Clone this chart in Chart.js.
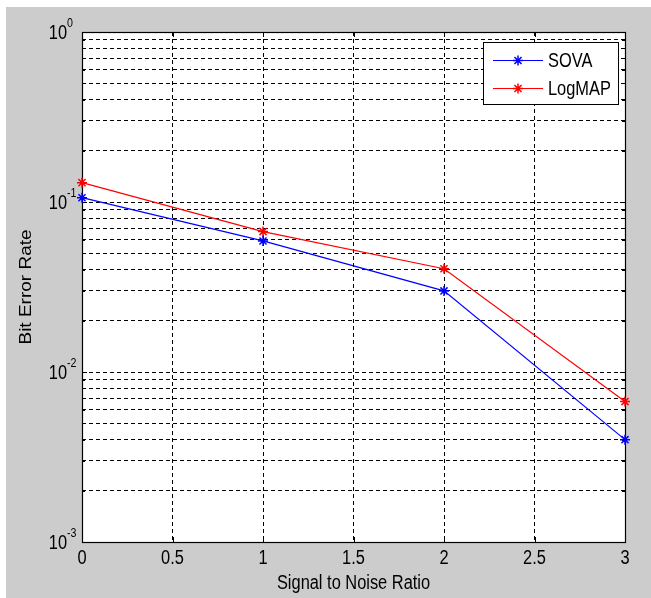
<!DOCTYPE html>
<html>
<head>
<meta charset="utf-8">
<script src="https://cdn.jsdelivr.net/npm/chart.js@4/dist/chart.umd.min.js"></script>
<style>
  html, body { margin: 0; padding: 0; background: #fff; }
  canvas { display: block; }
</style>
</head>
<body>
<canvas id="berChart" width="651" height="598"></canvas>
<script>
// values
const snr = [0, 1, 2, 3];
const sovaBer = [0.106, 0.059, 0.030, 0.0040];
const logmapBer = [0.130, 0.067, 0.0405, 0.0067];
const xTicks = [0, 0.5, 1, 1.5, 2, 2.5, 3];
const yExponents = [-3, -2, -1, 0];
const yMinorSteps = [2, 3, 4, 5, 6, 7, 8, 9];

const FONT = "'Liberation Sans', Arial, sans-serif";
const SQUEEZE = 0.82; // text in the figure is horizontally condensed

function drawText(ctx, str, x, y, size, align, baseline) {
    ctx.save();
    ctx.translate(x, y);
    ctx.scale(SQUEEZE, 1);
    ctx.font = size + 'px ' + FONT;
    ctx.fillStyle = '#000';
    ctx.textAlign = align;
    ctx.textBaseline = baseline;
    ctx.fillText(str, 0, 0);
    ctx.restore();
}

function drawStar(ctx, x, y, r, color) {
    const d = r * Math.SQRT1_2;
    ctx.save();
    ctx.strokeStyle = color;
    ctx.lineWidth = 1.5;
    ctx.beginPath();
    ctx.moveTo(x - r, y); ctx.lineTo(x + r, y);
    ctx.moveTo(x, y - r); ctx.lineTo(x, y + r);
    ctx.moveTo(x - d, y - d); ctx.lineTo(x + d, y + d);
    ctx.moveTo(x - d, y + d); ctx.lineTo(x + d, y - d);
    ctx.stroke();
    ctx.restore();
}

// MATLAB-like frame: gray figure, white axes, box, inner ticks, labels, legend
const matlabFrame = {
    id: 'matlabFrame',
    beforeDraw(chart) {
        const { ctx, chartArea: a } = chart;
        ctx.save();
        ctx.fillStyle = '#fff';
        ctx.fillRect(0, 0, chart.width, chart.height);
        ctx.fillStyle = '#cccccc';
        ctx.fillRect(6, 7, chart.width - 6, chart.height - 7);
        ctx.fillStyle = '#fff';
        ctx.fillRect(a.left, a.top, a.right - a.left, a.bottom - a.top);
        ctx.restore();
    },
    beforeDatasetsDraw(chart) {
        const { ctx, chartArea: a, scales } = chart;
        const xs = scales.x, ys = scales.y;
        ctx.save();
        ctx.strokeStyle = '#000';
        ctx.lineWidth = 1;
        ctx.beginPath();
        xTicks.forEach(v => {
            const px = Math.round(xs.getPixelForValue(v)) + 0.5;
            ctx.moveTo(px, a.bottom); ctx.lineTo(px, a.bottom - 5);
            ctx.moveTo(px, a.top); ctx.lineTo(px, a.top + 5);
        });
        yExponents.forEach(e => {
            const py = Math.round(ys.getPixelForValue(Math.pow(10, e))) + 0.5;
            ctx.moveTo(a.left, py); ctx.lineTo(a.left + 5, py);
            ctx.moveTo(a.right, py); ctx.lineTo(a.right - 5, py);
            if (e < 0) {
                yMinorSteps.forEach(m => {
                    const pm = Math.round(ys.getPixelForValue(m * Math.pow(10, e))) + 0.5;
                    ctx.moveTo(a.left, pm); ctx.lineTo(a.left + 3, pm);
                    ctx.moveTo(a.right, pm); ctx.lineTo(a.right - 3, pm);
                });
            }
        });
        ctx.stroke();
        ctx.lineWidth = 1.2;
        ctx.strokeRect(Math.round(a.left) + 0.5, Math.round(a.top) + 0.5,
            Math.round(a.right - a.left), Math.round(a.bottom - a.top));
        ctx.restore();

        // tick labels
        xTicks.forEach(v => {
            drawText(ctx, String(v), xs.getPixelForValue(v), a.bottom + 16, 20, 'center', 'middle');
        });
        yExponents.forEach(e => {
            const py = ys.getPixelForValue(Math.pow(10, e));
            drawText(ctx, '10', a.left - 15, py + 1, 20, 'right', 'middle');
            drawText(ctx, String(e), a.left - 15, py - 5, 13, 'left', 'alphabetic');
        });

        // axis titles
        drawText(ctx, 'Signal to Noise Ratio', (a.left + a.right) / 2, a.bottom + 41, 20, 'center', 'middle');
        ctx.save();
        ctx.translate(27, (a.top + a.bottom) / 2);
        ctx.rotate(-Math.PI / 2);
        ctx.font = '19px ' + FONT;
        ctx.fillStyle = '#000';
        ctx.textAlign = 'center';
        ctx.textBaseline = 'middle';
        ctx.scale(1, SQUEEZE);
        ctx.fillText('Bit Error Rate', 0, 0);
        ctx.restore();
    },
    afterDatasetsDraw(chart) {
        const { ctx } = chart;
        const box = { x: 483, y: 42, w: 135, h: 62 };
        ctx.save();
        ctx.fillStyle = '#fff';
        ctx.fillRect(box.x, box.y, box.w, box.h);
        ctx.strokeStyle = '#000';
        ctx.lineWidth = 1;
        ctx.strokeRect(box.x + 0.5, box.y + 0.5, box.w, box.h);
        chart.data.datasets.forEach((ds, i) => {
            const ly = box.y + 18 + i * 28;
            ctx.strokeStyle = ds.borderColor;
            ctx.lineWidth = 1.2;
            ctx.beginPath();
            ctx.moveTo(box.x + 10, ly + 0.5);
            ctx.lineTo(box.x + 60, ly + 0.5);
            ctx.stroke();
            drawStar(ctx, box.x + 35, ly + 0.5, 5, ds.borderColor);
            drawText(ctx, ds.label, box.x + 65, ly + 1, 20, 'left', 'middle');
        });
        ctx.restore();
    }
};

new Chart(document.getElementById('berChart'), {
    type: 'line',
    data: {
        datasets: [{
            label: 'SOVA',
            data: snr.map((x, i) => ({ x: x, y: sovaBer[i] })),
            borderColor: '#0000ff',
            backgroundColor: '#0000ff',
            borderWidth: 1.2,
            pointStyle: 'star',
            pointRadius: 5,
            pointBorderWidth: 1.5,
            tension: 0,
            clip: false
        }, {
            label: 'LogMAP',
            data: snr.map((x, i) => ({ x: x, y: logmapBer[i] })),
            borderColor: '#ff0000',
            backgroundColor: '#ff0000',
            borderWidth: 1.2,
            pointStyle: 'star',
            pointRadius: 5,
            pointBorderWidth: 1.5,
            tension: 0,
            clip: false
        }]
    },
    options: {
        responsive: false,
        devicePixelRatio: 1,
        animation: false,
        layout: { padding: { left: 82, top: 32, right: 26, bottom: 56 } },
        plugins: {
            legend: { display: false },
            tooltip: { enabled: false }
        },
        scales: {
            x: {
                type: 'linear',
                min: 0,
                max: 3,
                afterBuildTicks: scale => { scale.ticks = xTicks.map(v => ({ value: v })); },
                ticks: { display: false },
                grid: { color: '#000', lineWidth: 1, drawTicks: false },
                border: { display: false, dash: [4, 3] }
            },
            y: {
                type: 'logarithmic',
                min: 0.001,
                max: 1,
                afterBuildTicks: scale => {
                    const t = [];
                    yExponents.forEach(e => {
                        t.push({ value: Math.pow(10, e) });
                        if (e < 0) yMinorSteps.forEach(m => t.push({ value: m * Math.pow(10, e) }));
                    });
                    scale.ticks = t;
                },
                ticks: { display: false },
                grid: { color: '#000', lineWidth: 1, drawTicks: false },
                border: { display: false, dash: [4, 3] }
            }
        }
    },
    plugins: [matlabFrame]
});
</script>
</body>
</html>
